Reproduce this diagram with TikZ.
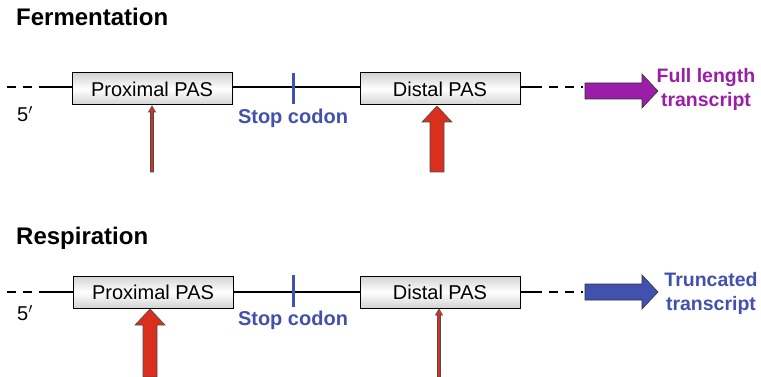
\documentclass[tikz,border=0pt]{standalone}
\usepackage{fontspec}
\setmainfont{Liberation Sans}
\definecolor{arrred}{HTML}{D9301E}
\definecolor{purp}{HTML}{9A1EA8}
\definecolor{codblue}{HTML}{4250AE}
\tikzset{
  pasbox/.style={draw=black, line width=1pt, minimum width=160pt, minimum height=32pt, inner sep=0pt,
     top color=gray!35, bottom color=gray!35, middle color=white, font=\fontsize{20}{22}\selectfont},
  title/.style={anchor=west, inner sep=0pt, font=\bfseries\fontsize{24}{26}\selectfont},
  codon/.style={text=codblue, font=\bfseries\fontsize{20}{22}\selectfont},
  prime/.style={font=\fontsize{20}{22}\selectfont},
  outtext/.style={align=center, font=\bfseries\fontsize{19.5}{24}\selectfont},
  seq/.style={line width=1.3pt, black},
  seqdash/.style={line width=1.3pt, black, dash pattern=on 9pt off 7pt},
  tick/.style={line width=3pt, codblue},
  redarr/.style={fill=arrred, draw=black!70, line width=0.6pt, line join=miter},
}
\begin{document}
\begin{tikzpicture}[x=1pt,y=-1pt]
\useasboundingbox (0,0) rectangle (761,377);
% ---------- Fermentation ----------
\node[title] (t1) at (16,17) {Fermentation};
\coordinate (a0) at (7,87);
\coordinate (a1) at (42,87);
\node[pasbox] (p1) at (152,89) {Proximal PAS};
\node[pasbox] (d1) at (440,89) {Distal PAS};
\coordinate (a2) at (533,87);
\coordinate (a3) at (583,87);
\draw[seqdash] (a0) -- (a1);
\draw[seq] (a1) -- (p1.west |- a1);
\draw[seq] (p1.east |- a1) -- (d1.west |- a1);
\draw[seq] (d1.east |- a1) -- (a2);
\draw[seqdash] (a2) -- (a3);
\coordinate (s1t) at (293,73);
\coordinate (s1b) at (293,104);
\draw[tick] (s1t) -- (s1b);
\node[prime] (f1) at (25,114) {5$'$};
\node[codon] (c1) at (293,118) {Stop codon};
% big purple arrow
\fill[purp, draw=black!80, line width=0.6pt] (585,83) -- (642,83) -- (642,74) -- (658,91) -- (642,108) -- (642,99) -- (585,99) -- cycle;
\node[outtext, text=purp] (o1) at (706,89) {Full length\\transcript};
% thin red arrow at proximal
\filldraw[redarr] (150.5,172) -- (150.5,112) -- (148.5,112) -- (152,106) -- (155.5,112) -- (153.5,112) -- (153.5,172) -- cycle;
% big red arrow at distal
\filldraw[redarr] (430,172) -- (430,122) -- (422,122) -- (437,106) -- (452,122) -- (444,122) -- (444,172) -- cycle;
% ---------- Respiration ----------
\node[title] (t2) at (16,238) {Respiration};
\coordinate (b0) at (7,292);
\coordinate (b1) at (42,292);
\node[pasbox] (p2) at (153,292) {Proximal PAS};
\node[pasbox] (d2) at (440,292) {Distal PAS};
\coordinate (b2) at (533,292);
\coordinate (b3) at (583,292);
\draw[seqdash] (b0) -- (b1);
\draw[seq] (b1) -- (p2.west |- b1);
\draw[seq] (p2.east |- b1) -- (d2.west |- b1);
\draw[seq] (d2.east |- b1) -- (b2);
\draw[seqdash] (b2) -- (b3);
\coordinate (s2t) at (293,275);
\coordinate (s2b) at (293,307);
\draw[tick] (s2t) -- (s2b);
\node[prime] (f2) at (25,313) {5$'$};
\node[codon] (c2) at (293,320) {Stop codon};
\fill[codblue, draw=black!80, line width=0.6pt] (585,284) -- (642,284) -- (642,275) -- (658,292) -- (642,309) -- (642,300) -- (585,300) -- cycle;
\node[outtext, text=codblue] (o2) at (711,293) {Truncated\\transcript};
% big red arrow at proximal
\filldraw[redarr] (143,377) -- (143,325) -- (135,325) -- (150,309) -- (165,325) -- (157,325) -- (157,377) -- cycle;
% thin red arrow at distal
\filldraw[redarr] (437.5,377) -- (437.5,315) -- (435.5,315) -- (439,309) -- (442.5,315) -- (440.5,315) -- (440.5,377) -- cycle;
\end{tikzpicture}
\end{document}
